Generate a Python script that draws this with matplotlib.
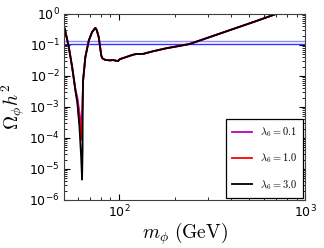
import matplotlib
matplotlib.use('agg')
import matplotlib.pyplot as plt

plt.rcParams['mathtext.fontset'] = 'cm'
plt.rcParams['xtick.direction'] = 'in'
plt.rcParams['ytick.direction'] = 'in'
plt.rcParams['xtick.top'] = True
plt.rcParams['ytick.right'] = True

# relic density vs. scalar mass
m_left = [51.2, 53.8, 56.1]
om_left = [0.33, 0.085, 0.019]

m_dip_01 = [58.4, 59.8, 61.3, 62.3, 62.9]
om_dip_01 = [3.6e-3, 2.0e-3, 7.0e-4, 3.2e-4, 2.3e-4]
m_dip_10 = [58.4, 59.8, 61.3, 62.4, 63.1]
om_dip_10 = [3.5e-3, 1.6e-3, 4.0e-4, 1.6e-4, 8.7e-5]
m_dip_30 = [58.4, 59.8, 61.3, 62.6, 63.4, 63.8]
om_dip_30 = [3.4e-3, 1.35e-3, 2.5e-4, 2.8e-5, 4.5e-6, 4.0e-5]

m_right = [63.9, 64.2, 66.0, 68.9, 71.7, 74.7, 76.0, 77.9, 80.4, 81.5, 84.2,
           89.5, 92.9, 98.8, 101.2, 118.8, 124.3, 134.4, 152.0, 179.9, 212.0,
           239.8, 271.2, 407.0, 533.7, 699.8, 1000.0]
om_right = [1.7e-3, 7.1e-3, 0.040, 0.138, 0.257, 0.355, 0.30, 0.178, 0.045, 0.037,
            0.033, 0.0316, 0.0324, 0.030, 0.0347, 0.048, 0.051, 0.051, 0.062,
            0.078, 0.093, 0.107, 0.138, 0.32, 0.56, 1.0, 2.1]

planck_lo = 0.107
planck_hi = 0.134

series = [
    (r'$\lambda_6=0.1$', 'm', m_dip_01, om_dip_01),
    (r'$\lambda_6=1.0$', 'r', m_dip_10, om_dip_10),
    (r'$\lambda_6=3.0$', 'k', m_dip_30, om_dip_30),
]

fig = plt.figure(figsize=(3.24, 2.48), dpi=100)
ax = fig.add_axes([0.197, 0.194, 0.745, 0.75])

ax.axhline(planck_hi, color='b', lw=1.0, alpha=0.45)
ax.axhline(planck_lo, color='b', lw=1.0, alpha=0.8)

for label, col, md, od in series:
    x = m_left + md + m_right
    y = om_left + od + om_right
    ax.plot(x, y, color=col, lw=1.3, label=label)

ax.set_xscale('log')
ax.set_yscale('log')
ax.set_xlim(50.6, 1000)
ax.set_ylim(1e-6, 1)
ax.tick_params(which='both', labelsize=9, pad=3)
ax.tick_params(which='major', length=4)
ax.tick_params(which='minor', length=2)
for s in ax.spines.values():
    s.set_color('0.25')

ax.set_xlabel(r'$m_\phi\ \mathrm{(GeV)}$', fontsize=14, labelpad=0)
ax.set_ylabel(r'$\Omega_\phi h^2$', fontsize=14, labelpad=2)

leg = ax.legend(loc='lower right', fontsize=7.5, fancybox=False, framealpha=1,
                edgecolor='k', borderaxespad=0.2, handlelength=1.9,
                handletextpad=0.8, labelspacing=1.2, borderpad=0.6)
leg.get_frame().set_linewidth(0.9)

plt.savefig('out.png', dpi=100)
